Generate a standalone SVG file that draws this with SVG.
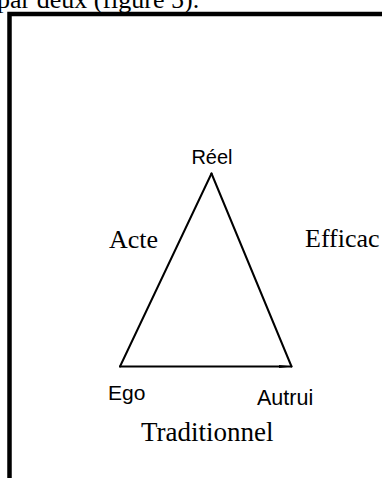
<svg xmlns="http://www.w3.org/2000/svg" width="382" height="478" viewBox="0 0 382 478">
<style>
.serif{font-family:"Liberation Serif","Times New Roman",serif;font-size:26px;fill:#000}
.sans{font-family:"Liberation Sans",Arial,sans-serif;font-size:20px;fill:#000}
.edge{stroke:#000;stroke-width:2;fill:none;stroke-linecap:round}
.frame{stroke:#000;stroke-width:4.5;fill:none}
</style>
<rect width="382" height="478" fill="#fff"/>
<text class="serif" x="-3" y="7.5">par deux (figure 5).</text>
<g id="frame">
<path class="frame" d="M9.5,478 V14 H382"/>
</g>
<g id="connectors">
<line class="edge" x1="211.5" y1="173.5" x2="120" y2="366.5"/>
<line class="edge" x1="211.5" y1="173.5" x2="291.5" y2="366.5"/>
<line class="edge" x1="120" y1="366.5" x2="291.5" y2="366.5"/>
<polygon points="279,365 292,366.5 279,368" fill="#000"/>
</g>
<g id="reel"><text class="sans" x="212" y="164" text-anchor="middle">Réel</text></g>
<g id="ego"><text class="sans" x="108" y="400" style="font-size:21px">Ego</text></g>
<g id="autrui"><text class="sans" x="257" y="405" style="font-size:21.5px">Autrui</text></g>
<g id="acte"><text class="serif" x="109" y="248">Acte</text></g>
<g id="efficac"><text class="serif" x="305" y="247">Efficac</text></g>
<g id="traditionnel"><text class="serif" x="141" y="441" style="font-size:27px">Traditionnel</text></g>
</svg>
